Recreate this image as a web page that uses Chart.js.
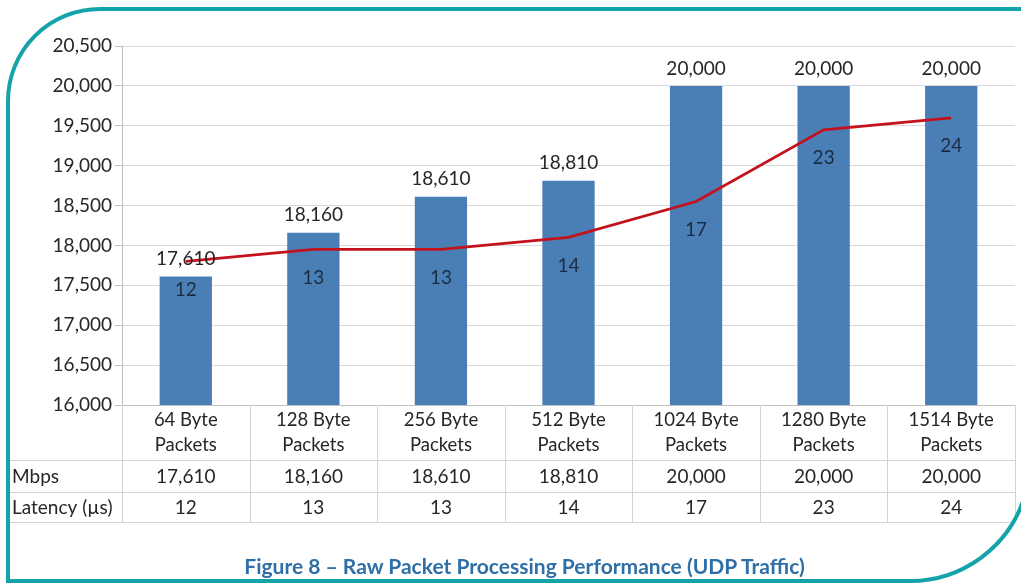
<!DOCTYPE html>
<html>
<head>
<meta charset="utf-8">
<script src="https://cdn.jsdelivr.net/npm/chart.js@4"></script>
<style>
  body { margin: 0; background: #fff; overflow: hidden; }
  #wrap { position: relative; width: 1021px; height: 583px; overflow: hidden; }
  #chart-area { display: block; }
  #caption {
    position: absolute; left: 0; width: 1049px; top: 553px;
    text-align: center; font-family: Lato, sans-serif; font-weight: bold;
    font-size: 21px; color: #2f6fa8;
  }
</style>
</head>
<body>
<div id="wrap">
  <canvas id="chart-area" width="1021" height="583"></canvas>
  <div id="caption">Figure 8 – Raw Packet Processing Performance (UDP Traffic)</div>
</div>
<script>
var packetSizes = [['64 Byte','Packets'],['128 Byte','Packets'],['256 Byte','Packets'],['512 Byte','Packets'],['1024 Byte','Packets'],['1280 Byte','Packets'],['1514 Byte','Packets']];
var mbps    = [17610, 18160, 18610, 18810, 20000, 20000, 20000];
var latency = [12, 13, 13, 14, 17, 23, 24];
var rowNames = ['Mbps', 'Latency (\u00b5s)'];

var fontName = 'Lato, sans-serif';
var textCol = '#262626';
var lineCol = '#d4d4d4';

function fmt(v) { return v.toLocaleString('en-US'); }

// border frame + data labels + data table
var extras = {
  id: 'extras',
  afterDraw: function(chart) {
    var ctx = chart.ctx;
    var x = chart.scales.x;
    var area = chart.chartArea;
    var barMeta = chart.getDatasetMeta(0);
    var lineMeta = chart.getDatasetMeta(1);

    ctx.save();
    ctx.font = '19px ' + fontName;
    ctx.textAlign = 'center';

    // bar value labels
    ctx.fillStyle = textCol;
    ctx.textBaseline = 'bottom';
    barMeta.data.forEach(function(bar, i) {
      ctx.fillText(fmt(mbps[i]), bar.x, bar.y - 8);
    });
    // latency labels
    ctx.fillStyle = '#1b2c42';
    ctx.textBaseline = 'middle';
    lineMeta.data.forEach(function(pt, i) {
      ctx.fillText(latency[i], pt.x, pt.y + 28);
    });

    // table
    var rows = [area.bottom, 460, 492, 522];
    var half = (x.getPixelForValue(1) - x.getPixelForValue(0)) / 2;
    ctx.strokeStyle = lineCol;
    ctx.lineWidth = 1;
    ctx.beginPath();
    for (var r = 1; r < rows.length; r++) {
      ctx.moveTo(8, rows[r] + 0.5);
      ctx.lineTo(area.right, rows[r] + 0.5);
    }
    for (var i = 0; i <= mbps.length; i++) {
      var bx = Math.round(i < mbps.length ? x.getPixelForValue(i) - half : x.getPixelForValue(i - 1) + half) + 0.5;
      ctx.moveTo(bx, area.bottom);
      ctx.lineTo(bx, rows[3]);
    }
    ctx.stroke();

    ctx.fillStyle = textCol;
    var rowData = [mbps.map(fmt), latency];
    for (var r = 0; r < 2; r++) {
      var cy = (rows[r + 1] + rows[r + 2]) / 2 + 1;
      ctx.textAlign = 'left';
      ctx.fillText(rowNames[r], 12, cy);
      ctx.textAlign = 'center';
      rowData[r].forEach(function(v, i) {
        ctx.fillText(v, x.getPixelForValue(i), cy);
      });
    }

    // teal frame: round top-left corner, bottom-right arc
    ctx.strokeStyle = '#15a3aa';
    ctx.lineWidth = 4;
    ctx.beginPath();
    ctx.moveTo(8, 600);
    ctx.lineTo(8, 101);
    ctx.arcTo(8, 9, 100, 9, 92);
    ctx.lineTo(1021, 9);
    ctx.stroke();
    ctx.beginPath();
    ctx.arc(910, 461, 120, 0.3, Math.PI / 2);
    ctx.lineTo(8, 581);
    ctx.stroke();
    ctx.restore();
  }
};

var config = {
  data: {
    labels: packetSizes,
    datasets: [{
      type: 'bar',
      label: 'Mbps',
      data: mbps,
      backgroundColor: '#4a7fb6',
      categoryPercentage: 1,
      barPercentage: 0.41,
      yAxisID: 'y',
      order: 2
    }, {
      type: 'line',
      label: 'Latency',
      data: latency,
      borderColor: '#c3121c',
      borderWidth: 2.8,
      pointRadius: 0,
      tension: 0,
      yAxisID: 'y2',
      order: 1
    }]
  },
  options: {
    responsive: false,
    animation: false,
    layout: { padding: { top: 46, right: 6, left: 0, bottom: 0 } },
    plugins: { legend: { display: false }, tooltip: { enabled: false } },
    scales: {
      x: {
        grid: { display: false, drawTicks: false },
        border: { color: '#bfbfbf' },
        ticks: { color: textCol, font: { family: fontName, size: 18.5, lineHeight: 1.35 }, padding: 3, maxRotation: 0 },
        afterFit: function(s) { s.height = 178; }
      },
      y: {
        position: 'left',
        min: 16000, max: 20500,
        border: { color: '#bfbfbf' },
        grid: { color: '#d9d9d9', tickLength: 7, tickColor: '#bfbfbf' },
        ticks: { stepSize: 500, color: textCol, font: { family: fontName, size: 19 }, padding: 3,
                 callback: function(v) { return fmt(v); } },
        afterFit: function(s) { s.width = 122; }
      },
      y2: {
        position: 'right', display: false, min: 0, max: 30,
        grid: { drawOnChartArea: false }
      }
    }
  },
  plugins: [extras]
};

var ctx = document.getElementById('chart-area').getContext('2d');
window.myChart = new Chart(ctx, config);
</script>
</body>
</html>
